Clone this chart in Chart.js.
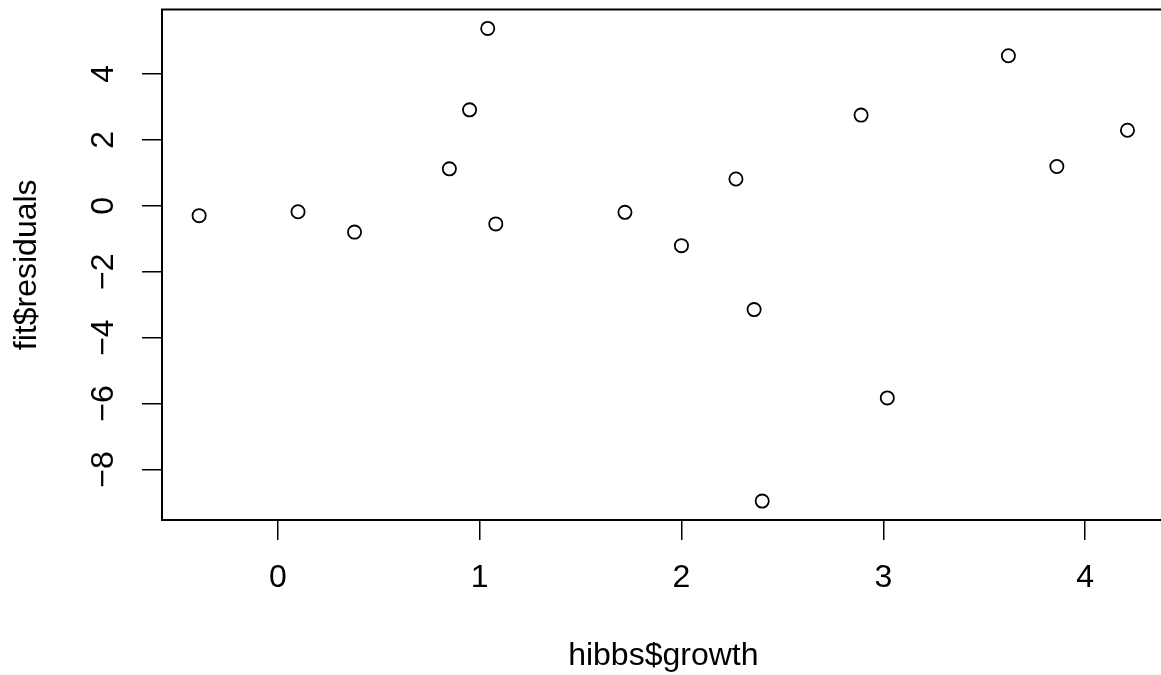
<!DOCTYPE html>
<html>
<head>
<meta charset="utf-8">
<script src="https://cdn.jsdelivr.net/npm/chart.js@4/dist/chart.umd.min.js"></script>
<style>
    html, body { margin: 0; padding: 0; background: #fff; overflow: hidden; }
    #wrap { width: 1173px; height: 675px; position: relative; }
</style>
</head>
<body>
<div id="wrap"><canvas id="residPlot"></canvas></div>
<script>
const growth = [-0.39, 0.10, 0.38, 0.85, 0.95, 1.04, 1.08, 1.72, 2.00, 2.27, 2.36, 2.40, 2.89, 3.02, 3.62, 3.86, 4.21];
const residuals = [-0.30, -0.18, -0.80, 1.12, 2.91, 5.38, -0.55, -0.20, -1.21, 0.81, -3.15, -8.96, 2.75, -5.83, 4.55, 1.19, 2.29];
const xTickValues = [0, 1, 2, 3, 4];
const yTickValues = [-8, -6, -4, -2, 0, 2, 4];

const FONT = "'Liberation Sans', Arial, Helvetica, sans-serif";

// R style range: data range stretched by 4% on each side
function padRange(arr) {
    const lo = Math.min(...arr), hi = Math.max(...arr);
    const d = (hi - lo) * 0.04;
    return [lo - d, hi + d];
}
const [xMin, xMax] = padRange(growth);
const [yMin, yMax] = padRange(residuals);

const points = growth.map((g, i) => ({ x: g, y: residuals[i] }));

// box around the plot region, like R's box()
const boxPlugin = {
    id: 'rbox',
    afterDraw(chart) {
        const { ctx, chartArea: a } = chart;
        ctx.save();
        ctx.strokeStyle = '#000';
        ctx.lineWidth = 2;
        ctx.strokeRect(a.left, a.top, a.right - a.left, a.bottom - a.top);
        ctx.restore();
    }
};

const minus = v => String(v).replace('-', '\u2212');

new Chart(document.getElementById('residPlot'), {
    type: 'scatter',
    data: {
        datasets: [{
            data: points,
            pointStyle: 'circle',
            pointRadius: 6.6,
            pointBorderWidth: 1.8,
            pointBorderColor: '#000',
            pointBackgroundColor: 'rgba(0,0,0,0)',
            showLine: false
        }]
    },
    options: {
        responsive: true,
        maintainAspectRatio: false,
        animation: false,
        layout: { padding: { top: 9.5, right: 0, left: 0, bottom: 0 } },
        plugins: { legend: { display: false }, tooltip: { enabled: false } },
        scales: {
            x: {
                type: 'linear',
                min: xMin,
                max: xMax,
                afterBuildTicks: s => { s.ticks = xTickValues.map(v => ({ value: v })); },
                afterFit: s => { s.height = 155; s.paddingLeft = 0; s.paddingRight = 0; },
                border: { display: false },
                grid: { drawOnChartArea: false, drawTicks: true, tickLength: 20, color: '#000', lineWidth: 1.5 },
                ticks: { color: '#000', font: { family: FONT, size: 32 }, padding: 19, maxRotation: 0, callback: v => minus(v) },
                title: { display: true, text: 'hibbs$growth', color: '#000', font: { family: FONT, size: 32 }, padding: { top: 0, bottom: 0 } }
            },
            y: {
                type: 'linear',
                min: yMin,
                max: yMax,
                afterBuildTicks: s => { s.ticks = yTickValues.map(v => ({ value: v })); },
                afterFit: s => { s.width = 162; s.paddingTop = 0; s.paddingBottom = 0; },
                border: { display: false },
                grid: { drawOnChartArea: false, drawTicks: true, tickLength: 20, color: '#000', lineWidth: 1.5 },
                ticks: { color: '#000', font: { family: FONT, size: 32 }, padding: 20, minRotation: 90, maxRotation: 90, crossAlign: 'center', callback: v => minus(v) },
                title: { display: true, text: 'fit$residuals', color: '#000', font: { family: FONT, size: 32 }, padding: { top: 8, bottom: 0 } }
            }
        }
    },
    plugins: [boxPlugin]
});
</script>
</body>
</html>
